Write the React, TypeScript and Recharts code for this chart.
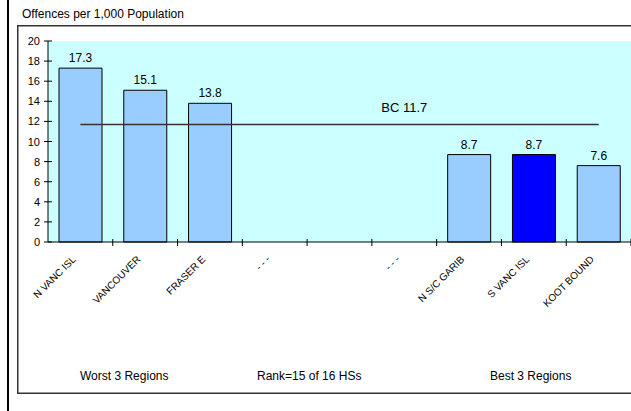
import React from 'react';
import { ComposedChart, Bar, Line, Cell, XAxis, YAxis, CartesianGrid, LabelList } from 'recharts';

const regions = ['N VANC ISL', 'VANCOUVER', 'FRASER E', '- - -', '', '- - -', 'N S/C GARIB', 'S VANC ISL', 'KOOT BOUND'];
const offenceRates = [17.3, 15.1, 13.8, null, null, null, 8.7, 8.7, 7.6];
const bcAverage = [11.7, 11.7, 11.7, 11.7, 11.7, 11.7, 11.7, 11.7, 11.7];
const highlightRegion = 'S VANC ISL';
const bcLabelIndex = 5;
const yTicks = [0, 2, 4, 6, 8, 10, 12, 14, 16, 18, 20];
const footerLabels = ['Worst 3 Regions', 'Rank=15 of 16 HSs', 'Best 3 Regions'];

const data = regions.map((name, i) => ({ name, rate: offenceRates[i], bc: bcAverage[i] }));

const FONT = '"Liberation Sans", Arial, sans-serif';

const YTick = (props: any) => {
  const { x, y, payload } = props;
  return (
    <g>
      <line x1={x - 4} x2={x + 4} y1={y} y2={y} stroke="#000" strokeWidth={1} />
      <text x={x - 8} y={y} dy={4} textAnchor="end" fontSize={11} fontFamily={FONT} fill="#000">
        {payload.value}
      </text>
    </g>
  );
};

const XTick = (props: any) => {
  const { x, y, payload } = props;
  const half = payload.offset ?? 32.4;
  const bx = x + half;
  return (
    <g>
      <line x1={bx} x2={bx} y1={y - 3} y2={y + 4} stroke="#000" strokeWidth={1} />
      <text
        transform={`translate(${x - 4},${y + 18}) rotate(-45)`}
        textAnchor="end"
        fontSize={10}
        fontFamily={FONT}
        fill="#000"
      >
        {payload.value}
      </text>
    </g>
  );
};

const BcLabel = (props: any) => {
  const { x, y, index, value } = props;
  if (index !== bcLabelIndex) return null;
  return (
    <text x={x} y={y - 12} textAnchor="middle" fontSize={13} fontFamily={FONT} fill="#000">
      {`BC ${value}`}
    </text>
  );
};

export default function App() {
  return (
    <svg width={631} height={411} style={{ position: 'absolute', left: 0, top: 0, background: '#fff', fontFamily: FONT }}>
      <rect x={7} y={0} width={2} height={411} fill="#000" />
      <path d="M631,25.75 H17.75 V393.25 H631" fill="none" stroke="#333" strokeWidth={1.5} />
      <text x={22} y={18} fontSize={12} fill="#000">Offences per 1,000 Population</text>
      <text x={80} y={380} fontSize={12} fill="#000">{footerLabels[0]}</text>
      <text x={257} y={380} fontSize={12} fill="#000">{footerLabels[1]}</text>
      <text x={490} y={380} fontSize={12} fill="#000">{footerLabels[2]}</text>
      <foreignObject x={0} y={0} width={631} height={411}>
        <ComposedChart width={640} height={411} data={data} margin={{ top: 41, right: 9, bottom: 109, left: 0 }}>
          <CartesianGrid fill="#CCFFFF" stroke="none" horizontal={false} vertical={false} />
          <XAxis
            dataKey="name"
            height={60}
            interval={0}
            tickLine={false}
            tickSize={0}
            tickMargin={0}
            axisLine={{ stroke: '#000', strokeWidth: 1 }}
            tick={<XTick />}
          />
          <YAxis
            width={48}
            domain={[0, 20]}
            ticks={yTicks}
            interval={0}
            tickLine={false}
            tickSize={0}
            tickMargin={0}
            axisLine={{ stroke: '#000', strokeWidth: 1 }}
            tick={<YTick />}
          />
          <Bar dataKey="rate" barSize={43} stroke="#000" strokeWidth={1} isAnimationActive={false}>
            {data.map((d, i) => (
              <Cell key={`c-${i}`} fill={d.name === highlightRegion ? '#0000FF' : '#99CCFF'} />
            ))}
            <LabelList dataKey="rate" position="top" offset={6} fontSize={12} fontFamily={FONT} fill="#000" />
          </Bar>
          <Line dataKey="bc" stroke="#333" strokeWidth={1.5} dot={false} isAnimationActive={false}>
            <LabelList dataKey="bc" content={<BcLabel />} />
          </Line>
        </ComposedChart>
      </foreignObject>
    </svg>
  );
}
